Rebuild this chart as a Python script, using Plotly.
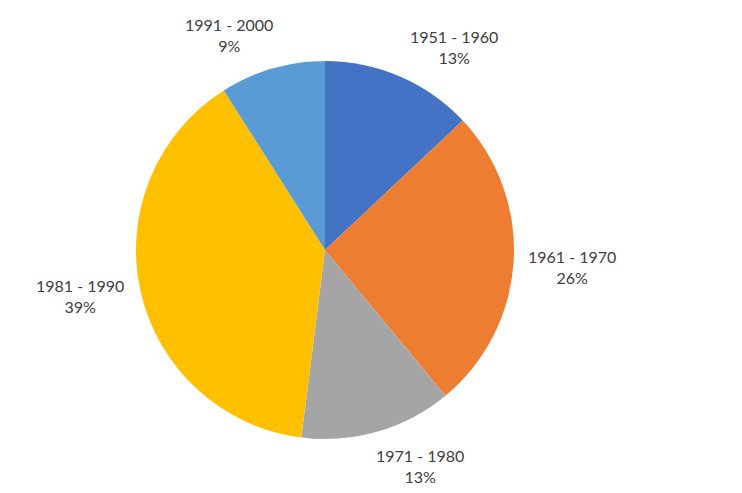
import plotly.graph_objects as go

categories = ["1951 - 1960", "1961 - 1970", "1971 - 1980", "1981 - 1990", "1991 - 2000"]
values = [13, 26, 13, 39, 9]
colors = ["#4472C4", "#ED7D31", "#A5A5A5", "#FFC000", "#5B9BD5"]
# label anchor positions in page pixels (layout only)
label_pos = [(454, 47), (572, 267), (420, 466), (80, 296), (229, 35)]

W, H = 742, 493
OFF = 8  # page body margin offset
cx, cy, r = 325 - OFF, 250 - OFF, 189

fig = go.Figure(go.Pie(
    labels=categories,
    values=values,
    sort=False,
    direction="clockwise",
    marker=dict(colors=colors, line=dict(width=0)),
    textinfo="none",
    hoverinfo="label+percent",
    domain=dict(x=[(cx - r) / W, (cx + r) / W], y=[(H - cy - r) / H, (H - cy + r) / H]),
    showlegend=False,
))

total = sum(values)
for cat, v, (px, py) in zip(categories, values, label_pos):
    fig.add_annotation(
        x=(px - OFF) / W, y=1 - (py - OFF) / H, xref="paper", yref="paper",
        text=f"{cat}<br>{round(100 * v / total)}%",
        showarrow=False, xanchor="center", yanchor="middle",
        font=dict(family="Lato, Open Sans, sans-serif", size=16, color="#404040"),
    )

fig.update_layout(
    width=W, height=H,
    margin=dict(l=0, r=0, t=0, b=0),
    paper_bgcolor="white", plot_bgcolor="white",
)

fig.write_html("out.html")
